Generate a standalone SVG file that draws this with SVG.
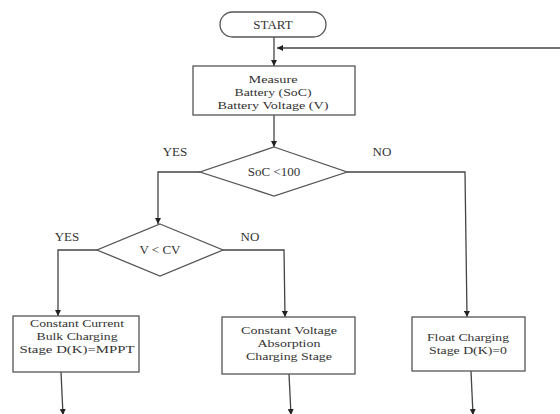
<svg xmlns="http://www.w3.org/2000/svg" width="560" height="414" viewBox="0 0 560 414">
<defs>
<marker id="arr" viewBox="0 0 10 10" refX="10" refY="5" markerWidth="6" markerHeight="6" markerUnits="userSpaceOnUse" orient="auto">
<path d="M0,0 L10,5 L0,10 z" fill="#222"/>
</marker>
</defs>
<style>
.box{fill:#fff;stroke:#555;stroke-width:1.3}
.ln{fill:none;stroke:#444;stroke-width:1.3}
.ar{fill:none;stroke:#444;stroke-width:1.3;marker-end:url(#arr)}
text{font-family:"Liberation Serif","Times New Roman",serif;font-size:13px;fill:#333;text-anchor:middle}
.bt{font-size:11.3px}
</style>
<rect width="560" height="414" fill="#fff"/>
<g id="connectors">
<path class="ar" d="M274,37 L274,66"/>
<path class="ar" d="M560,48 L277,48"/>
<path class="ar" d="M274,115 L274,147"/>
<path class="ar" d="M200,172 L158,172 L158,224"/>
<path class="ar" d="M347,172 L465,172 L467,317"/>
<path class="ar" d="M97,250 L58,250 L58,316"/>
<path class="ar" d="M223,250 L284,250 L285,317"/>
<path class="ar" d="M61,372 L63,415"/>
<path class="ar" d="M289,374 L291,415"/>
<path class="ar" d="M471,371 L473,415"/>
<text x="175" y="156">YES</text>
<text x="382" y="156">NO</text>
<text x="67" y="241">YES</text>
<text x="250" y="241">NO</text>
</g>
<g id="start">
<rect class="box" x="220" y="12" width="106" height="25" rx="12.5"/>
<text x="273" y="29">START</text>
</g>
<g id="measure">
<rect class="box" x="193" y="66" width="162" height="49"/>
<text class="bt" x="273" y="83" textLength="49" lengthAdjust="spacingAndGlyphs">Measure</text>
<text class="bt" x="273" y="95.8" textLength="77" lengthAdjust="spacingAndGlyphs">Battery (SoC)</text>
<text class="bt" x="273" y="108.6" textLength="111" lengthAdjust="spacingAndGlyphs">Battery Voltage (V)</text>
</g>
<g id="soc">
<polygon class="box" points="274,147 347,172 274,196 200,172"/>
<text x="274" y="176">SoC &lt;100</text>
</g>
<g id="vcv">
<polygon class="box" points="160,224 223,250 160,276 97,250"/>
<text x="160" y="254">V &lt; CV</text>
</g>
<g id="bulk">
<rect class="box" x="13" y="316" width="126" height="56"/>
<text class="bt" x="77" y="327" textLength="94" lengthAdjust="spacingAndGlyphs">Constant Current</text>
<text class="bt" x="77" y="339.8" textLength="81" lengthAdjust="spacingAndGlyphs">Bulk Charging</text>
<text class="bt" x="77" y="352.6" textLength="115" lengthAdjust="spacingAndGlyphs">Stage D(K)=MPPT</text>
</g>
<g id="absorption">
<rect class="box" x="222" y="317" width="133" height="57"/>
<text class="bt" x="289" y="334" textLength="96" lengthAdjust="spacingAndGlyphs">Constant Voltage</text>
<text class="bt" x="289" y="346.8" textLength="63" lengthAdjust="spacingAndGlyphs">Absorption</text>
<text class="bt" x="289" y="359.6" textLength="86" lengthAdjust="spacingAndGlyphs">Charging Stage</text>
</g>
<g id="float">
<rect class="box" x="412" y="317" width="113" height="54"/>
<text class="bt" x="468" y="341" textLength="82" lengthAdjust="spacingAndGlyphs">Float Charging</text>
<text class="bt" x="468" y="353.8" textLength="78" lengthAdjust="spacingAndGlyphs">Stage D(K)=0</text>
</g>
</svg>
